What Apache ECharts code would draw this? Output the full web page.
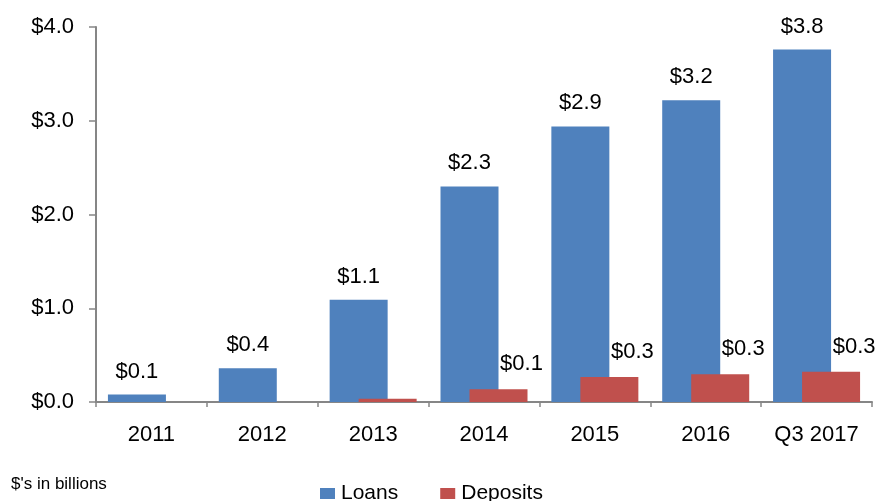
<!DOCTYPE html>
<html>
<head>
<meta charset="utf-8">
<script src="https://cdn.jsdelivr.net/npm/echarts@6/dist/echarts.min.js"></script>
<style>
  html, body { margin: 0; padding: 0; background: #fff; }
  #chart { width: 880px; height: 501px; }
</style>
</head>
<body>
<div id="chart"></div>
<script>
var categories = ['2011', '2012', '2013', '2014', '2015', '2016', 'Q3 2017'];
var loans = [0.08, 0.36, 1.09, 2.30, 2.94, 3.22, 3.76];
var deposits = [0, 0, 0.036, 0.135, 0.267, 0.295, 0.324];
var yTicks = [0, 1, 2, 3, 4];

var font = 'Liberation Sans';
var chart = echarts.init(document.getElementById('chart'));

function money(v) {
  return '$' + Number(v).toFixed(1);
}

chart.setOption({
  animation: false,
  textStyle: { fontFamily: font },
  grid: { left: 96, right: 8, top: 27, bottom: 99 },
  legend: {
    left: 315,
    top: 478,
    itemWidth: 15,
    itemHeight: 11,
    itemGap: 42,
    icon: 'rect',
    textStyle: { fontFamily: font, fontSize: 21, color: '#000', padding: [0, 0, 0, 1] },
    data: ['Loans', 'Deposits']
  },
  graphic: [{
    type: 'text',
    left: 11,
    top: 476,
    style: { text: "$'s in billions", font: '17px "Liberation Sans"', fill: '#000' }
  }],
  xAxis: {
    type: 'category',
    data: categories,
    axisLine: { lineStyle: { color: '#868686', width: 2 } },
    axisTick: { show: true, length: 5, lineStyle: { color: '#868686', width: 1.5 } },
    axisLabel: { color: '#000', fontSize: 22, margin: 22, fontFamily: font }
  },
  yAxis: {
    type: 'value',
    min: yTicks[0],
    max: yTicks[yTicks.length - 1],
    interval: 1,
    splitLine: { show: false },
    axisLine: { show: true, lineStyle: { color: '#868686', width: 2 } },
    axisTick: { show: true, length: 7, lineStyle: { color: '#868686', width: 1.5 } },
    axisLabel: { color: '#000', fontSize: 22, margin: 22, fontFamily: font, formatter: money }
  },
  series: [
    {
      name: 'Loans',
      type: 'bar',
      data: loans,
      barWidth: 58,
      barGap: '-50%',
      itemStyle: { color: '#4F81BD' },
      label: {
        show: true,
        position: 'top',
        distance: 12,
        color: '#000',
        fontSize: 22,
        fontFamily: font,
        formatter: function (p) { return money(p.value); }
      }
    },
    {
      name: 'Deposits',
      type: 'bar',
      barWidth: 58,
      barGap: '-50%',
      itemStyle: { color: '#C0504D' },
      data: deposits.map(function (v) {
        return {
          value: v,
          label: { show: Number(v.toFixed(1)) >= 0.1 }
        };
      }),
      label: {
        position: 'top',
        distance: 14,
        offset: [23, 0],
        color: '#000',
        fontSize: 22,
        fontFamily: font,
        formatter: function (p) { return money(p.value); }
      }
    }
  ]
});
</script>
</body>
</html>
